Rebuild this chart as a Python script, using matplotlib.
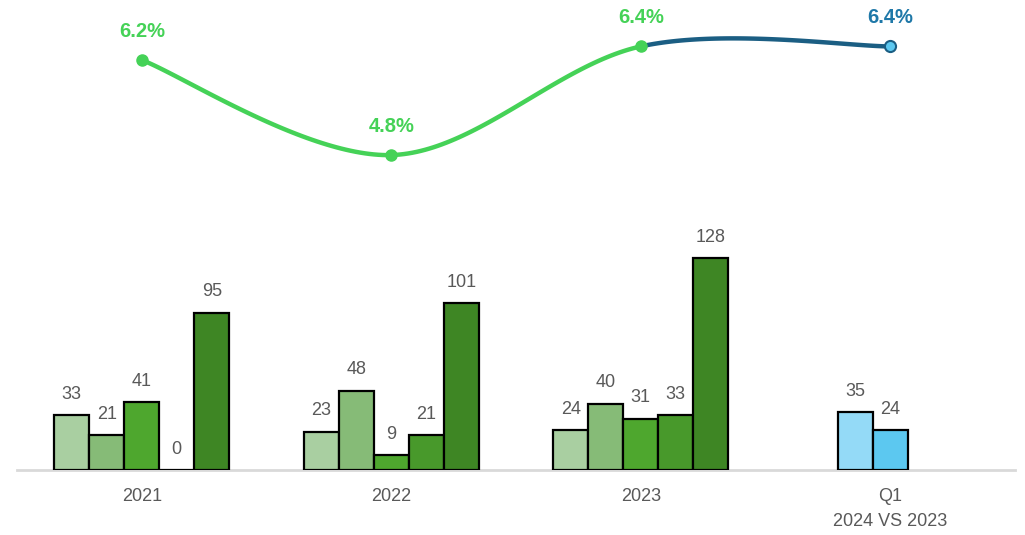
import matplotlib
matplotlib.use("Agg")
import matplotlib.pyplot as plt
import numpy as np

plt.rcParams['font.family'] = ['Liberation Sans', 'DejaVu Sans']

categories = ["2021", "2022", "2023", "Q1\n2024 VS 2023"]
series1 = [33, 23, 24]
series2 = [21, 48, 40]
series3 = [41, 9, 31]
series4 = [0, 21, 33]
series5 = [95, 101, 128]
q1_2024 = [35]
q1_2023 = [24]
rate = [6.2, 4.8, 6.4, 6.4]
rate_labels = ["6.2%", "4.8%", "6.4%", "6.4%"]

W, H = 1025, 535
fig = plt.figure(figsize=(W / 100, H / 100), dpi=100)
left_px, right_px, base_px = 17, 1015, 470
ax = fig.add_axes([left_px / W, (H - base_px) / H, (right_px - left_px) / W, base_px / H])
ax.set_xlim(-0.5, 3.5)
ax.set_ylim(0, base_px / 1.653)

bw = 35 / 249.5
green_cols = ["#A9CFA1", "#86BB77", "#4EA72E", "#48992B", "#3E8624"]
blue_cols = ["#94DAF7", "#5CC8F0"]
lab_col = "#595959"

def draw(xs, vals, col):
    ax.bar(xs, vals, width=bw, color=col, edgecolor="black", linewidth=1.6, zorder=3)
    for x, v in zip(xs, vals):
        ax.annotate(str(v), (x, v), xytext=(0, 9), textcoords="offset points",
                    ha="center", va="bottom", fontsize=13, color=lab_col)

groups = np.arange(3)
for i, s in enumerate([series1, series2, series3, series4, series5]):
    draw(groups + (i - 2) * bw, s, green_cols[i])
draw(np.array([3]) - bw, q1_2024, blue_cols[0])
draw(np.array([3]), q1_2023, blue_cols[1])

for s in ["top", "right", "left"]:
    ax.spines[s].set_visible(False)
ax.spines["bottom"].set_color("#D9D9D9")
ax.spines["bottom"].set_linewidth(2)
ax.set_yticks([])
ax.set_xticks(np.arange(4))
ax.set_xticklabels(categories, fontsize=13, color=lab_col, linespacing=1.6)
ax.tick_params(axis="x", length=0, pad=13)

# line axis
ax2 = ax.twinx()
ax2.set_ylim(6.2 - 410 / 67.9, 6.2 + 60 / 67.9)
ax2.axis("off")

def bez(p0, c1, c2, p3, n=60):
    t = np.linspace(0, 1, n)[:, None]
    return ((1 - t) ** 3) * p0 + 3 * ((1 - t) ** 2) * t * c1 + 3 * (1 - t) * t ** 2 * c2 + t ** 3 * p3

pts = np.array([[i, v] for i, v in enumerate(rate)], dtype=float)
n = len(pts)
segs = []
for i in range(n - 1):
    p0, p1 = pts[i], pts[i + 1]
    prev = pts[i - 1] if i > 0 else pts[i]
    nxt = pts[i + 2] if i + 2 < n else pts[i + 1]
    c1 = p0 + (p1 - prev) / 6
    c2 = p1 - (nxt - p0) / 6
    segs.append(bez(p0, c1, c2, p1))

green_line = "#45D257"
blue_line = "#1B5E83"
for i, seg in enumerate(segs):
    col = green_line if i < 2 else blue_line
    ax2.plot(seg[:, 0], seg[:, 1], color=col, lw=3.2, solid_capstyle="round", zorder=4)

ax2.plot(pts[:3, 0], pts[:3, 1], "o", ms=8, color=green_line, zorder=5)
ax2.plot(pts[3, 0], pts[3, 1], "o", ms=8, mfc="#5CC8F0", mec=blue_line, mew=1.5, zorder=5)

for i, (x, v) in enumerate(pts):
    col = green_line if i < 3 else "#1F78A8"
    ax2.annotate(rate_labels[i], (x, v), xytext=(0, 14), textcoords="offset points",
                 ha="center", va="bottom", fontsize=14.5, fontweight="bold", color=col)

fig.savefig("out.png", dpi=100)
